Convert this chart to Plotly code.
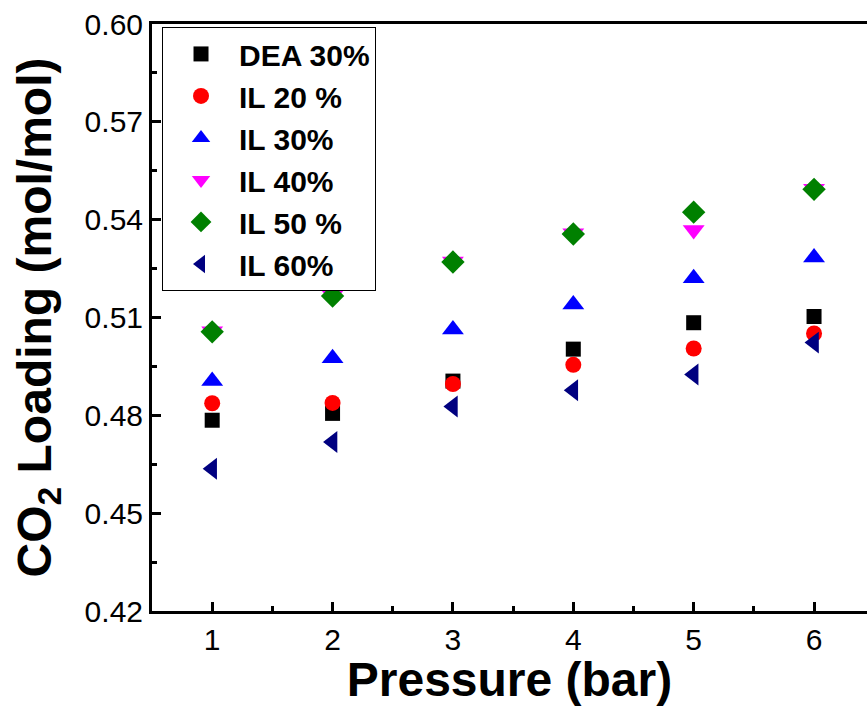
import plotly.graph_objects as go

pressure = [1, 2, 3, 4, 5, 6]
dea30 = [0.4785, 0.4806, 0.4905, 0.5003, 0.5084, 0.5103]
il20 = [0.4837, 0.4838, 0.4896, 0.4955, 0.5005, 0.5051]
il30 = [0.4905, 0.4975, 0.5063, 0.5140, 0.5220, 0.5284]
il40 = [0.5058, 0.5168, 0.5272, 0.5358, 0.5368, 0.5495]
il50 = [0.5056, 0.5166, 0.5270, 0.5356, 0.5423, 0.5493]
il60 = [0.4636, 0.4718, 0.4827, 0.4877, 0.4925, 0.5023]

series = [
    ("DEA 30%", dea30, "square", "#000000", 15),
    ("IL 20 %", il20, "circle", "#FF0000", 16),
    ("IL 30%", il30, "triangle-up", "#0000FF", 19),
    ("IL 40%", il40, "triangle-down", "#FF00FF", 19),
    ("IL 50 %", il50, "diamond", "#008000", 18),
    ("IL 60%", il60, "triangle-left", "#000080", 19),
]

FONT = "Liberation Sans, Arial, sans-serif"

fig = go.Figure()
for name, vals, sym, col, sz in series:
    fig.add_trace(go.Scatter(
        x=pressure, y=vals, mode="markers", name=name,
        marker=dict(symbol=sym, color=col, size=sz, line=dict(width=0)),
    ))

axis_common = dict(
    showgrid=False, zeroline=False, showline=True, linecolor="black", linewidth=3,
    ticks="inside", ticklen=9, tickwidth=3, tickcolor="black",
    tickfont=dict(family=FONT, size=30, color="black"),
)

fig.update_xaxes(
    range=[0.5, 6.44], tickmode="linear", tick0=1, dtick=1, mirror=True,
    minor=dict(ticks="inside", ticklen=5, tickwidth=3, tickcolor="black", dtick=0.5, tick0=0.5),
    title=dict(text="Pressure (bar)", font=dict(family=FONT, size=48, color="black", weight="bold"), standoff=6),
    **axis_common,
)
fig.update_yaxes(
    range=[0.42, 0.60], tickmode="linear", tick0=0.42, dtick=0.03, tickformat=".2f", mirror=False,
    minor=dict(ticks="inside", ticklen=5, tickwidth=3, tickcolor="black", dtick=0.015, tick0=0.42),
    title=dict(text="CO<sub>2</sub> Loading (mol/mol)", font=dict(family=FONT, size=48, color="black", weight="bold"), standoff=18),
    **axis_common,
)

fig.update_layout(
    width=867, height=706,
    margin=dict(l=152, r=0, t=24, b=95),
    paper_bgcolor="white", plot_bgcolor="white",
    showlegend=True,
    legend=dict(
        x=0.014, y=0.995, xanchor="left", yanchor="top",
        bordercolor="black", borderwidth=1, bgcolor="white",
        font=dict(family=FONT, size=30, color="black", weight="bold"),
        itemwidth=66, tracegroupgap=0,
    ),
)

fig.write_html("out.html")
